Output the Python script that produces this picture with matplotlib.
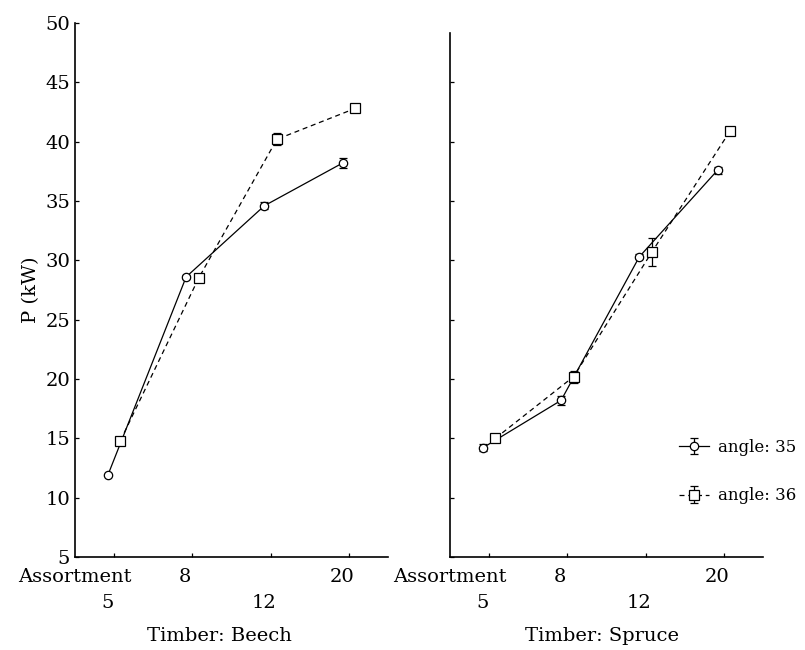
import matplotlib.pyplot as plt
import numpy as np

plt.rcParams['font.family'] = 'DejaVu Serif'

# Data
assortments = ['5', '8', '12', '20']
beech_35 = [11.9, 28.6, 34.6, 38.2]
beech_35_err = [0.1, 0.2, 0.3, 0.4]
beech_36 = [14.8, 28.5, 40.2, 42.8]
beech_36_err = [0.1, 0.2, 0.5, 0.2]
spruce_35 = [14.2, 18.2, 30.3, 37.6]
spruce_35_err = [0.3, 0.4, 0.2, 0.3]
spruce_36 = [15.0, 20.2, 30.7, 40.9]
spruce_36_err = [0.3, 0.5, 1.2, 0.2]
panels = ['Timber: Beech', 'Timber: Spruce']

fig = plt.figure(figsize=(8.05, 6.5), dpi=100)
ax1 = fig.add_axes([0.0932, 0.1431, 0.3888, 0.8215])
ax2 = fig.add_axes([0.5590, 0.1431, 0.3888, 0.8215])

x = np.arange(len(assortments))
off = 0.08
fs = 14

def draw(ax, y35, e35, y36, e36, title, title_x):
    ax.errorbar(x - off, y35, yerr=e35, color='black', lw=0.9, ls='-',
                marker='o', ms=6, mfc='white', mec='black', mew=0.9,
                capsize=3, elinewidth=0.9, label='angle: 35')
    ax.errorbar(x + off, y36, yerr=e36, color='black', lw=0.9, ls=(0, (4, 3)),
                marker='s', ms=7, mfc='white', mec='black', mew=0.9,
                capsize=3, elinewidth=0.9, label='angle: 36')
    ax.set_xlim(-0.5, 3.5)
    ax.set_ylim(5, 50)
    ax.set_xticks(x)
    ax.set_xticklabels([])
    ax.tick_params(direction='in', length=3, width=0.9, labelsize=fs)
    for s in ['top', 'right']:
        ax.spines[s].set_visible(False)
    for s in ['left', 'bottom']:
        ax.spines[s].set_linewidth(1.2)
    # staggered tick labels
    for i, lab in enumerate(assortments):
        yy = -0.038 if i in (1, 3) else -0.087
        ax.text(i - 0.09, yy, lab, transform=ax.get_xaxis_transform(),
                ha='center', va='center', fontsize=fs)
    ax.text(-0.5, -0.038, 'Assortment', transform=ax.get_xaxis_transform(),
            ha='center', va='center', fontsize=fs)
    ax.text(title_x, -0.148, title, transform=ax.transAxes,
            ha='center', va='center', fontsize=fs)

draw(ax1, beech_35, beech_35_err, beech_36, beech_36_err, panels[0], 0.46)
draw(ax2, spruce_35, spruce_35_err, spruce_36, spruce_36_err, panels[1], 0.485)

ax1.set_yticks(range(5, 51, 5))
ax1.set_ylabel('P (kW)', fontsize=fs, labelpad=4)
ax2.set_yticks(range(5, 46, 5))
ax2.set_yticklabels([])
ax2.spines['left'].set_bounds(5, 49.2)

ax2.legend(loc='center left', bbox_to_anchor=(0.685, 0.16), frameon=False,
           fontsize=12, labelspacing=1.9, handlelength=1.8, handletextpad=0.5)

fig.savefig('out.png', dpi=100)
